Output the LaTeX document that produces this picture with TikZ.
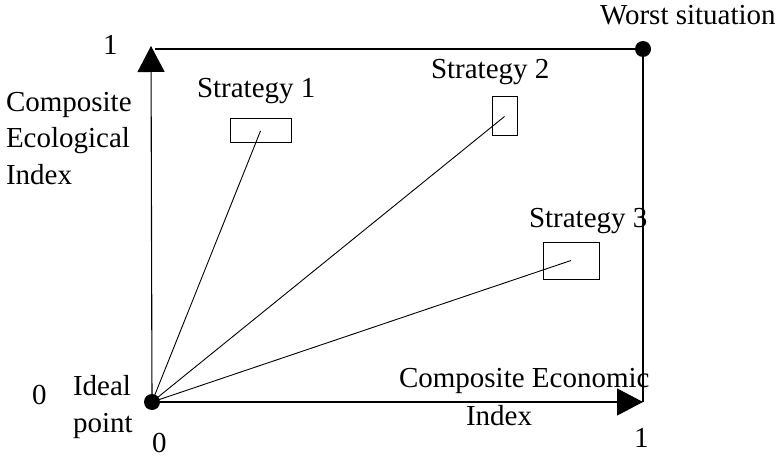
\documentclass[tikz,border=0pt]{standalone}
\usepackage{fontspec}
\setmainfont{Liberation Serif}
\usetikzlibrary{arrows.meta}
\begin{document}
\begin{tikzpicture}[x=1pt,y=-1pt,
  every node/.style={inner sep=0pt,outer sep=0pt},
  lbl/.style={anchor=base west,font=\fontsize{29}{36}\selectfont},
  frame/.style={line width=1.1pt},
  ray/.style={line width=0.9pt},
  axis/.style={line width=1.1pt,-{Triangle[length=26pt,width=27pt]}},
  dot/.style={circle,fill=black,minimum size=16pt},
  stratbox/.style={draw,line width=1pt,fill=none}]
\useasboundingbox (0,0) rectangle (784,457);

% corner points
\node[dot] (ideal) at (152,402) {};
\node[dot] (worst) at (643,49) {};
\coordinate (ytip) at (151,46);
\coordinate (xtip) at (643,402);
\coordinate (topleft) at (155,49);
\coordinate (botright) at (643,402);

% frame and axes
\draw[frame] (topleft) -- (worst.center) -- (botright);
\draw[axis] (ideal.center) -- (ytip);
\draw[axis] (ideal.center) -- (xtip);

% strategy boxes
\node[stratbox,minimum width=61pt,minimum height=24pt] (s1) at (260.5,131) {};
\node[stratbox,minimum width=25pt,minimum height=39pt] (s2) at (504.5,116.5) {};
\node[stratbox,minimum width=56pt,minimum height=37pt] (s3) at (571,260.5) {};

% rays from the ideal point
\draw[ray] (ideal.center) -- (s1.center);
\draw[ray] (ideal.center) -- (s2.center);
\draw[ray] (ideal.center) -- (s3.center);

% labels
\node[lbl] (t1) at (197,98) {Strategy 1};
\node[lbl] (t2) at (431,79) {Strategy 2};
\node[lbl] (t3) at (529,227) {Strategy 3};
\node[lbl] (tw) at (600,25) {Worst situation};
\node[lbl] (ty1) at (103,55) {1};
\node[lbl] (tya) at (6,112) {Composite};
\node[lbl] (tyb) at (6,148) {Ecological};
\node[lbl] (tyc) at (6,185) {Index};
\node[lbl] (ty0) at (32,404) {0};
\node[lbl] (tida) at (73,395) {Ideal};
\node[lbl] (tidb) at (73,432) {point};
\node[lbl] (tx0) at (152,452) {0};
\node[lbl] (tx1) at (634,447) {1};
\node[lbl] (tx) at (399,387) {Composite Economic};
\node[lbl] (tx2) at (466,425) {Index};
\end{tikzpicture}
\end{document}
